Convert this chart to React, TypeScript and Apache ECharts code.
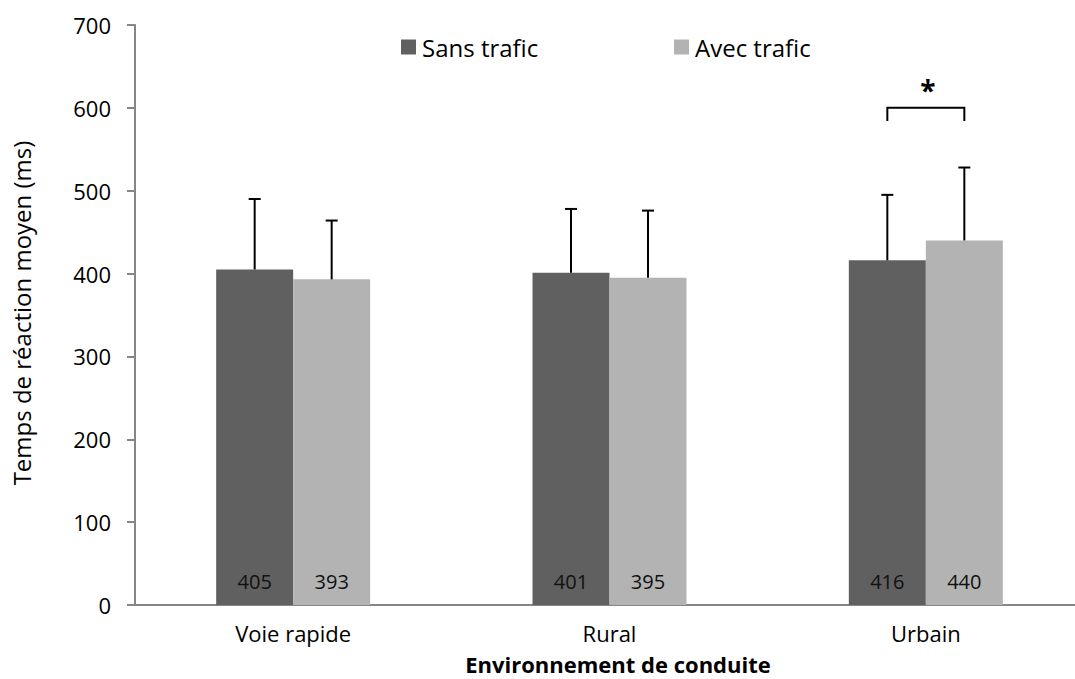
import { useEffect, useRef } from "react";
import * as echarts from "echarts";

const categories = ["Voie rapide", "Rural", "Urbain"];
const seriesNames = ["Sans trafic", "Avec trafic"];
const sansTrafic = [405, 401, 416];
const avecTrafic = [393, 395, 440];
const sansTraficSD = [85, 77, 79];
const avecTraficSD = [71, 81, 88];
const yMin = 0;
const yMax = 700;
const yInterval = 100;
const sigCategory = 2;
const sigLevel = 600;
const sigLegEnd = 584;
const sigStarLevel = 622;
const sigLabel = "*";
const yTitle = "Temps de réaction moyen (ms)";
const xTitle = "Environnement de conduite";

const FONT = "'Open Sans', 'Noto Sans', sans-serif";
const DARK = "#606060";
const LIGHT = "#b3b3b3";
const AXIS = "#868686";
const BAR_W = 77;

export default function App() {
  const ref = useRef<HTMLDivElement>(null);
  useEffect(() => {
    if (!ref.current) return;
    const chart = echarts.init(ref.current, null, { renderer: "svg" });

    const errSeries = (vals: number[], sds: number[], offset: number) => ({
      type: "custom",
      silent: true,
      z: 5,
      data: vals.map((v, i) => [i, v, sds[i]]),
      encode: { x: 0, y: 1 },
      renderItem: (params: any, api: any) => {
        const cat = api.value(0);
        const mean = api.value(1);
        const sd = api.value(2);
        const p0 = api.coord([cat, mean]);
        const p1 = api.coord([cat, mean + sd]);
        const x = p0[0] + offset;
        return {
          type: "group",
          children: [
            { type: "line", shape: { x1: x, y1: p0[1], x2: x, y2: p1[1] }, style: { stroke: "#000", lineWidth: 2 } },
            { type: "line", shape: { x1: x - 6, y1: p1[1], x2: x + 6, y2: p1[1] }, style: { stroke: "#000", lineWidth: 2 } },
          ],
        };
      },
    });

    const legendCommon = {
      top: 30,
      icon: "rect",
      itemWidth: 15,
      itemHeight: 15,
      itemGap: 6,
      textStyle: { fontFamily: FONT, fontSize: 24, color: "#000", padding: [0, 0, 0, 1] },
    };

    const option: any = {
      animation: false,
      grid: { left: 135, top: 25, width: 949, height: 580, containLabel: false },
      legend: [
        { ...legendCommon, data: [seriesNames[0]], left: 396 },
        { ...legendCommon, data: [seriesNames[1]], left: 669 },
      ],
      xAxis: {
        type: "category",
        data: categories,
        axisLine: { lineStyle: { color: AXIS, width: 2 } },
        axisTick: { show: false },
        axisLabel: { fontFamily: FONT, fontSize: 22, lineHeight: 22, color: "#000", margin: 17 },
      },
      yAxis: {
        type: "value",
        min: yMin,
        max: yMax,
        interval: yInterval,
        axisLine: { show: true, lineStyle: { color: AXIS, width: 2 } },
        axisTick: { show: true, length: 8, lineStyle: { color: AXIS, width: 2 } },
        splitLine: { show: false },
        axisLabel: { fontFamily: FONT, fontSize: 22, color: "#000", margin: 24 },
      },
      series: [
        {
          name: seriesNames[0],
          type: "bar",
          data: sansTrafic,
          barWidth: BAR_W,
          barGap: "0%",
          itemStyle: { color: DARK },
          label: { show: true, position: "insideBottom", distance: 14, fontFamily: FONT, fontSize: 20, color: "#111" },
        },
        {
          name: seriesNames[1],
          type: "bar",
          data: avecTrafic,
          barWidth: BAR_W,
          barGap: "0%",
          itemStyle: { color: LIGHT },
          label: { show: true, position: "insideBottom", distance: 14, fontFamily: FONT, fontSize: 20, color: "#111" },
        },
        errSeries(sansTrafic, sansTraficSD, -BAR_W / 2),
        errSeries(avecTrafic, avecTraficSD, BAR_W / 2),
        {
          type: "custom",
          silent: true,
          z: 5,
          data: [[sigCategory, sigLevel, sigLegEnd, sigStarLevel]],
          encode: { x: 0, y: 1 },
          renderItem: (params: any, api: any) => {
            const cat = api.value(0);
            const c = api.coord([cat, api.value(1)]);
            const leg = api.coord([cat, api.value(2)]);
            const star = api.coord([cat, api.value(3)]);
            const xd = c[0] - BAR_W / 2;
            const xl = c[0] + BAR_W / 2;
            return {
              type: "group",
              children: [
                {
                  type: "polyline",
                  shape: { points: [[xd, leg[1]], [xd, c[1]], [xl, c[1]], [xl, leg[1]]] },
                  style: { stroke: "#000", lineWidth: 2, fill: null },
                },
                {
                  type: "text",
                  x: c[0] + 2,
                  y: star[1],
                  style: {
                    text: sigLabel,
                    fontFamily: FONT,
                    fontSize: 28,
                    fontWeight: "bold",
                    fill: "#000",
                    align: "center",
                    verticalAlign: "middle",
                  },
                },
              ],
            };
          },
        },
      ],
      graphic: [
        {
          type: "text",
          x: 21,
          y: 313,
          rotation: Math.PI / 2,
          style: {
            text: yTitle,
            fontFamily: FONT,
            fontSize: 24,
            fill: "#000",
            align: "center",
            verticalAlign: "middle",
          },
        },
        {
          type: "text",
          x: 618,
          y: 664,
          style: {
            text: xTitle,
            fontFamily: FONT,
            fontSize: 22,
            fontWeight: "bold",
            fill: "#000",
            align: "center",
            verticalAlign: "middle",
          },
        },
      ],
    };
    chart.setOption(option);
    return () => chart.dispose();
  }, []);

  return (
    <div
      ref={ref}
      style={{ position: "fixed", left: 0, top: 0, width: 1100, height: 679, background: "#fff" }}
    />
  );
}
